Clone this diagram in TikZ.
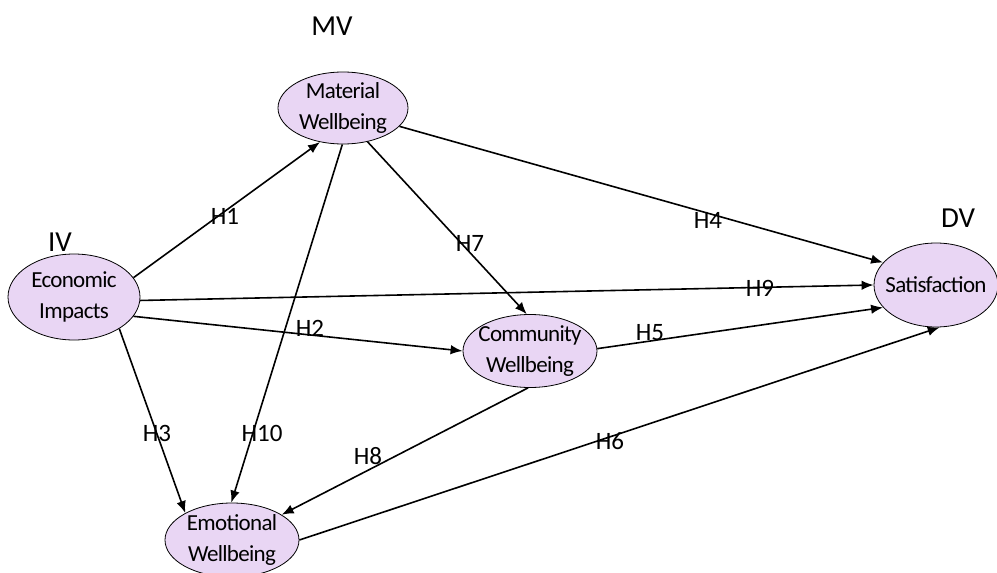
\documentclass[tikz,border=0pt]{standalone}
\usepackage{fontspec}
\setmainfont{Carlito}
\newfontfamily\nodefont[LetterSpace=-3]{Carlito}
\usetikzlibrary{shapes.geometric,arrows.meta}
\definecolor{lav}{RGB}{233,214,244}
\tikzset{
  var/.style={ellipse,draw=black,line width=0.8pt,fill=lav,inner xsep=-20pt,inner ysep=-14pt,align=center,font=\nodefont\fontsize{23}{31}\selectfont},
  hyp/.style={line width=1.6pt,-{Latex[length=12pt,width=9.5pt]}},
  hlab/.style={font=\fontsize{25}{27}\selectfont,inner sep=0pt},
  big/.style={font=\fontsize{29}{31}\selectfont,inner sep=0pt}
}
\begin{document}
\begin{tikzpicture}[x=1pt,y=-1pt]
\useasboundingbox (0,0) rectangle (997,573);
\node[var,minimum width=132pt,minimum height=86pt] (eco) at (74,297) {Economic\\Impacts};
\node[var,minimum width=130pt,minimum height=72pt] (mat) at (343,108) {Material\\Wellbeing};
\node[var,minimum width=134pt,minimum height=73pt] (com) at (530,351) {Community\\Wellbeing};
\node[var,minimum width=134pt,minimum height=74pt] (emo) at (232,540) {Emotional\\Wellbeing};
\node[var,minimum width=124pt,minimum height=84pt] (sat) at (936,285) {Satisfaction};
\node[big] (mv) at (332,26) {MV};
\node[big] (iv) at (60,242) {IV};
\node[big] (dv) at (958,218) {DV};
\draw[hyp] (eco.18) -- (mat.-124);
\draw[hyp] (eco.-3) -- (sat.180);
\draw[hyp] (eco.-18) -- (com.180);
\draw[hyp] (eco.-35) -- (emo.150);
\draw[hyp] (mat.-91) -- (emo.91);
\draw[hyp] (mat.-54) -- (com.95);
\draw[hyp] (mat.-18) -- (sat.157);
\draw[hyp] (com.2) -- (sat.203);
\draw[hyp] (com.-93) -- (emo.27);
\draw[hyp] (emo.0) -- (sat.-85);
\node[hlab] (h1) at (225,216) {H1};
\node[hlab] (h9) at (760,288) {H9};
\node[hlab] (h2) at (310,328) {H2};
\node[hlab] (h3) at (157,433) {H3};
\node[hlab] (h10) at (262,433) {H10};
\node[hlab] (h7) at (470,243) {H7};
\node[hlab] (h4) at (708,220) {H4};
\node[hlab] (h5) at (650,333) {H5};
\node[hlab] (h8) at (368,456) {H8};
\node[hlab] (h6) at (610,441) {H6};
\end{tikzpicture}
\end{document}
